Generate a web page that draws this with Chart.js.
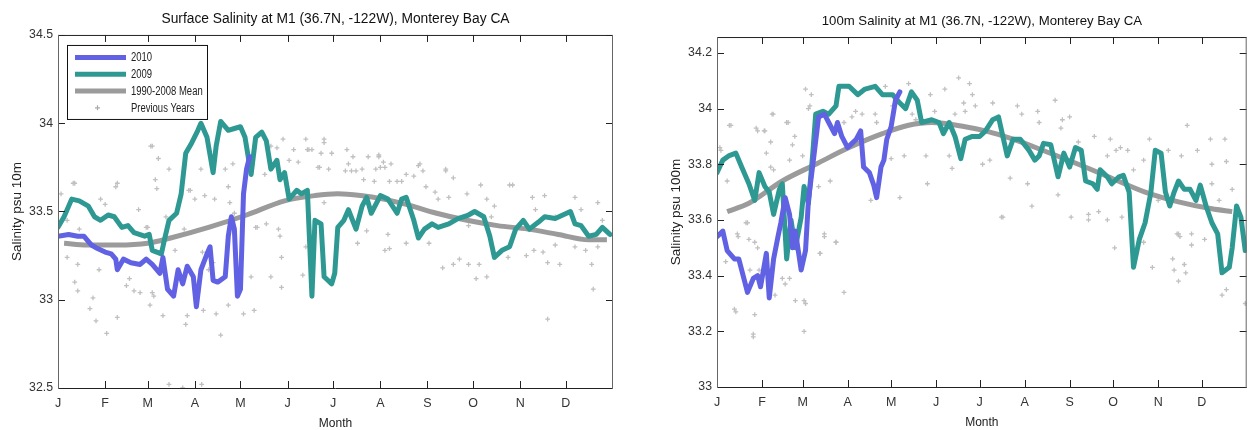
<!DOCTYPE html>
<html>
<head>
<meta charset="utf-8">
<title>M1 Salinity, Monterey Bay</title>
<script src="https://cdn.jsdelivr.net/npm/chart.js@4.4.1/dist/chart.umd.min.js"></script>
<style>
  html, body { margin: 0; padding: 0; background: #fff; }
  body { width: 1252px; height: 430px; position: relative; overflow: hidden; }
  .panel { position: absolute; top: 0; height: 430px; }
  #leftPanel { left: 0; width: 626px; }
  #rightPanel { left: 640px; width: 612px; }
</style>
</head>
<body>
<div class="panel" id="leftPanel"><canvas id="surfaceChart"></canvas></div>
<div class="panel" id="rightPanel"><canvas id="deepChart"></canvas></div>
<script>
'use strict';

//month ticks (day of year)
var monthStarts = [1, 32, 60, 91, 121, 152, 182, 213, 244, 274, 305, 335];
var monthLabels = ['J', 'F', 'M', 'A', 'M', 'J', 'J', 'A', 'S', 'O', 'N', 'D'];

//surface (10m) salinity - 2010
var surfDays2010 = [1, 8, 14, 18, 23, 27, 32, 36, 39, 40, 44, 49, 55, 59, 63, 68, 70, 73, 77, 80, 83, 86, 90, 92, 95, 99, 101, 103, 106, 111, 113, 115, 117, 119, 121, 123, 125, 127];
var surfSal2010 = [33.36, 33.37, 33.36, 33.36, 33.31, 33.29, 33.27, 33.26, 33.23, 33.17, 33.23, 33.21, 33.20, 33.23, 33.20, 33.15, 33.24, 33.06, 33.02, 33.17, 33.09, 33.19, 33.13, 32.96, 33.17, 33.26, 33.30, 33.11, 33.10, 33.13, 33.36, 33.47, 33.40, 33.02, 33.06, 33.60, 33.74, 33.81];

//surface salinity - 2009
var surfDays2009 = [1, 5, 10, 15, 21, 25, 29, 34, 38, 43, 47, 51, 58, 61, 63, 69, 71, 74, 79, 82, 85, 89, 93, 95, 99, 103, 105, 108, 113, 117, 121, 124, 128, 131, 135, 138, 141, 145, 147, 150, 153, 158, 161, 165, 168, 170, 174, 176, 181, 183, 185, 189, 192, 197, 201, 204, 207, 213, 218, 224, 227, 230, 235, 238, 242, 247, 251, 258, 264, 271, 275, 281, 285, 288, 293, 298, 302, 307, 311, 317, 321, 328, 333, 338, 341, 345, 350, 355, 359, 364];
var surfSal2009 = [33.41, 33.47, 33.57, 33.56, 33.53, 33.47, 33.45, 33.48, 33.47, 33.41, 33.42, 33.38, 33.36, 33.37, 33.28, 33.26, 33.34, 33.45, 33.49, 33.60, 33.83, 33.89, 33.96, 34.00, 33.92, 33.72, 33.87, 34.01, 33.96, 33.97, 33.98, 33.92, 33.71, 33.92, 33.95, 33.90, 33.74, 33.79, 33.68, 33.72, 33.57, 33.62, 33.60, 33.62, 33.02, 33.45, 33.43, 33.13, 33.09, 33.15, 33.41, 33.45, 33.51, 33.40, 33.53, 33.58, 33.49, 33.59, 33.57, 33.49, 33.57, 33.58, 33.45, 33.35, 33.40, 33.43, 33.41, 33.43, 33.46, 33.48, 33.50, 33.47, 33.36, 33.24, 33.28, 33.30, 33.40, 33.45, 33.40, 33.44, 33.47, 33.46, 33.48, 33.50, 33.43, 33.42, 33.36, 33.37, 33.41, 33.37];

//surface salinity - 1990-2008 mean
var surfMeanDays = [5, 20, 40, 60, 75, 100, 125, 150, 170, 185, 200, 215, 230, 250, 270, 290, 310, 330, 350, 362];
var surfMeanSal = [33.32, 33.31, 33.31, 33.32, 33.35, 33.41, 33.48, 33.56, 33.59, 33.60, 33.59, 33.57, 33.54, 33.49, 33.45, 33.42, 33.40, 33.37, 33.34, 33.34];

//surface salinity - previous years samples
var surfPrevDays = [7, 14, 12, 14, 22, 24, 26, 33, 28, 40, 46, 48, 51, 55, 61.5, 63, 64, 70, 74, 83, 85, 86, 95.5, 96.6, 105, 108, 113, 123, 130, 128, 141, 148, 148, 146, 162, 164, 132, 138, 60, 7, 15,
  11, 3, 29, 32, 39, 59, 54, 63, 66, 67, 72, 78, 84, 88, 91, 95, 97.5, 96, 100, 103, 104, 113, 114, 116, 111, 117, 131, 137, 141, 145, 147, 153, 156, 159, 165, 168, 172, 174, 176, 179, 176, 181, 149, 65,
  191, 192, 190, 195, 194, 197, 201, 202, 205, 209, 210, 212, 213, 215, 216, 219, 220, 224, 227, 235, 239, 241, 243, 249, 251, 256, 258, 261, 270, 279, 283, 288, 298, 313, 321, 341, 356,
  216, 219, 218, 198, 204, 230, 245, 254, 261, 265, 271, 278, 283, 297, 309, 314, 320, 323, 328, 331, 341, 348, 352, 353, 323, 276, 315, 328, 345, 359, 356, 271, 286,
  176, 173, 212, 230, 238, 256, 300, 164, 166, 62, 40, 12, 87, 74];
var surfPrevSal = [33.24, 33.20, 33.10, 33.05, 32.95, 33.01, 32.88, 32.81, 33.17, 32.90, 33.08, 33.12, 33.05, 33.04, 32.97, 33.04, 33.02, 32.91, 32.52, 32.50, 32.86, 32.91, 32.52, 32.94, 32.92, 32.80, 32.97, 32.92, 32.94, 33.13, 33.13, 33.07, 33.24, 33.40, 33.14, 33.30, 33.41, 33.43, 33.41, 33.45, 33.40,
  33.66, 33.60, 33.57, 33.54, 33.64, 33.41, 33.51, 33.87, 33.63, 33.80, 33.47, 33.28, 33.40, 33.62, 33.57, 33.74, 33.59, 33.27, 33.17, 33.21, 33.57, 33.64, 33.55, 33.77, 33.74, 33.49, 33.41, 33.71, 33.87, 33.86, 33.36, 33.79, 33.85, 33.78, 33.85, 33.85, 33.75, 33.83, 33.89, 33.74, 33.55, 33.83, 33.91, 33.68,
  33.85, 33.77, 33.73, 33.81, 33.73, 33.73, 33.74, 33.68, 33.81, 33.67, 33.74, 33.81, 33.75, 33.78, 33.75, 33.67, 33.77, 33.67, 33.67, 33.70, 33.77, 33.73, 33.64, 33.61, 33.57, 33.73, 33.58, 33.69, 33.60, 33.65, 33.57, 33.53, 33.65, 33.58, 33.59, 33.58, 33.55,
  33.28, 33.29, 33.37, 33.32, 33.39, 33.32, 33.32, 33.18, 33.20, 33.23, 33.20, 33.20, 33.13, 33.24, 33.25, 33.28, 33.27, 33.21, 33.31, 33.20, 33.30, 33.28, 33.20, 33.06, 32.89, 33.12, 33.51, 33.47, 33.51, 33.45, 33.30, 33.42, 33.47,
  33.91, 33.75, 33.82, 33.71, 33.76, 33.74, 33.65, 33.91, 33.85, 33.87, 33.66, 33.66, 33.62, 33.74];

//100m salinity - 2010
var deepDays2010 = [1, 5, 8, 13, 16, 20, 22, 26, 29, 31, 35, 37, 40, 43, 45, 48, 51, 53, 55, 59, 62, 64, 68, 71, 75, 78, 82, 84, 87, 91, 94, 97, 100, 102, 106, 109, 111, 114, 116, 118, 121, 124, 127];
var deepSal2010 = [33.54, 33.56, 33.49, 33.46, 33.46, 33.38, 33.34, 33.39, 33.40, 33.36, 33.48, 33.32, 33.46, 33.54, 33.59, 33.68, 33.62, 33.50, 33.56, 33.42, 33.49, 33.67, 33.84, 33.97, 33.98, 33.95, 33.91, 33.95, 33.90, 33.86, 33.875, 33.89, 33.92, 33.79, 33.77, 33.725, 33.68, 33.79, 33.815, 33.89, 33.935, 34.03, 34.06];

//100m salinity - 2009
var deepDays2009 = [1, 5, 9, 14, 18, 23, 27, 30, 34, 37, 40, 44, 46, 49, 52, 55, 59, 61, 64, 67, 69, 74, 78, 83, 85, 92, 98, 103, 110, 115, 122, 127, 131, 135, 139, 142, 149, 154, 157, 161, 165, 169, 172, 177, 182, 186, 191, 195, 198, 201, 205, 210, 216, 220, 223, 226, 231, 236, 240, 244, 248, 252, 255, 260, 263, 265, 270, 273, 278, 281, 285, 288, 292, 296, 300, 303, 307, 310, 313, 316, 319, 323, 327, 331, 334, 338, 342, 346, 349, 354, 356, 359, 362, 365];
var deepSal2009 = [33.77, 33.815, 33.83, 33.84, 33.79, 33.73, 33.67, 33.77, 33.72, 33.70, 33.62, 33.71, 33.73, 33.46, 33.60, 33.50, 33.61, 33.72, 33.66, 33.84, 33.98, 33.99, 33.98, 34.01, 34.08, 34.08, 34.05, 34.07, 34.08, 34.05, 34.05, 34.02, 34.00, 34.06, 34.03, 33.95, 33.96, 33.95, 33.91, 33.95, 33.90, 33.82, 33.89, 33.90, 33.90, 33.92, 33.96, 33.97, 33.90, 33.83, 33.89, 33.89, 33.85, 33.815, 33.83, 33.875, 33.87, 33.755, 33.84, 33.79, 33.86, 33.85, 33.74, 33.73, 33.71, 33.78, 33.755, 33.73, 33.755, 33.76, 33.70, 33.43, 33.53, 33.59, 33.70, 33.85, 33.84, 33.70, 33.65, 33.70, 33.74, 33.71, 33.71, 33.67, 33.725, 33.65, 33.59, 33.55, 33.41, 33.43, 33.50, 33.65, 33.61, 33.49];

//100m salinity - 1990-2008 mean
var deepMeanDays = [8, 23, 46, 69, 92, 115, 133, 149, 172, 186, 205, 228, 250, 273, 296, 319, 342, 356];
var deepMeanSal = [33.63, 33.66, 33.74, 33.80, 33.86, 33.91, 33.94, 33.95, 33.935, 33.92, 33.89, 33.845, 33.80, 33.75, 33.70, 33.665, 33.64, 33.63];

//100m salinity - previous years samples
var deepPrevDays = [3.7, 10.6, 8, 7, 13, 14, 15, 22, 23, 27, 26, 27, 29, 33.5, 39, 35, 38, 38, 40, 30, 46, 50, 51, 53, 55, 61, 61, 62, 66, 64, 69, 71, 72, 75, 79, 83, 88.5, 88.5, 94, 91, 96.5, 101, 107, 110, 111, 117, 121, 122, 127, 130, 133, 135.5, 138, 145, 146, 148, 151, 158, 161, 163, 165, 167.5, 171, 172, 175, 177, 179, 184,
  191, 189, 197, 203, 208, 211, 218, 215, 222, 223, 234, 239, 238, 244, 245, 236, 250, 257, 257, 261, 264, 270, 270, 272, 275, 276, 279, 284, 288, 295, 295, 299, 301, 305, 312, 315, 316, 319, 319, 321, 323, 325, 328, 332, 341, 342, 342, 347, 351, 352, 356, 349, 352, 365,
  318, 320, 328, 324, 337, 198, 280,
  15.6, 21, 23.7, 29, 26, 41, 48, 51, 62, 72, 75, 83,
  9.5, 3, 28, 34, 39.7, 49, 54.6, 65, 60];
var deepPrevSal = [33.85, 33.94, 33.74, 33.45, 33.28, 33.27, 33.55, 33.59, 33.53, 33.52, 33.18, 33.26, 33.92, 33.92, 33.98, 33.84, 33.88, 33.79, 33.78, 33.42, 33.39, 33.95, 33.815, 33.87, 33.31, 33.31, 33.20, 34.07, 34.05, 34.00, 33.95, 33.72, 33.48, 33.55, 33.74, 33.52, 33.34, 33.95, 33.97, 34.08, 33.99, 33.98, 33.67, 33.98, 33.95, 34.08, 33.82, 34.01, 33.68, 33.83, 34.09, 33.98, 33.96, 33.83, 33.73, 34.05, 33.99, 34.07, 33.83, 33.785, 33.98, 34.11, 34.02, 33.99, 34.09, 34.05, 34.01, 33.80,
  34.02, 33.815, 33.61, 33.75, 34.01, 33.98, 33.65, 33.73, 33.99, 33.95, 34.03, 33.96, 33.93, 33.97, 33.61, 33.69, 33.88, 33.62, 33.60, 33.90, 33.63, 33.60, 33.83, 33.89, 33.50, 33.85, 33.86, 33.85, 33.78, 33.815, 33.52, 33.89, 33.43, 33.67, 33.85, 33.46, 33.42, 33.38, 33.55, 33.83, 33.44, 33.94, 33.55, 33.85, 33.89, 33.80, 33.73, 33.67, 33.89, 33.81, 33.71, 33.33, 33.35, 33.30,
  33.55, 33.54, 33.51, 33.41, 33.53, 33.61, 33.61,
  33.54, 33.59, 33.42, 33.50, 33.19, 33.33, 33.37, 33.39, 33.30, 33.48, 33.54, 33.52,
  33.94, 33.86, 33.93, 33.92, 33.98, 33.95, 33.90, 34.01, 33.83];

//colors and fonts
var blue2010 = '#6161e3';
var teal2009 = '#2e9993';
var meanGray = '#9b9b9b';
var dotGray = '#c0c0c0';
var mainFont = '"Liberation Sans", Arial, sans-serif';

Chart.defaults.font.family = mainFont;

//turn two arrays into chart points
function toPoints(days, values) {
  return days.map(function (d, i) {
    return { x: d, y: values[i] };
  });
}

//draw the matlab style box and inward tick marks on all four sides
var boxTicks = {
  id: 'boxTicks',
  afterDraw: function (chart) {
    var ctx = chart.ctx;
    var a = chart.chartArea;
    var xs = chart.scales.x;
    var ys = chart.scales.y;
    var len = 7;
    ctx.save();
    ctx.lineWidth = 1;
    ctx.strokeStyle = '#222';
    ctx.beginPath();
    xs.ticks.forEach(function (t) {
      var px = Math.round(xs.getPixelForValue(t.value)) + 0.5;
      ctx.moveTo(px, a.bottom);
      ctx.lineTo(px, a.bottom - len);
      ctx.moveTo(px, a.top);
      ctx.lineTo(px, a.top + len);
    });
    ys.ticks.forEach(function (t) {
      var py = Math.round(ys.getPixelForValue(t.value)) + 0.5;
      ctx.moveTo(a.left, py);
      ctx.lineTo(a.left + len, py);
      ctx.moveTo(a.right, py);
      ctx.lineTo(a.right - len, py);
    });
    ctx.stroke();
    //frame
    ctx.beginPath();
    ctx.moveTo(a.left, a.top + 0.5);
    ctx.lineTo(a.right, a.top + 0.5);
    ctx.moveTo(a.left, a.bottom + 0.5);
    ctx.lineTo(a.right, a.bottom + 0.5);
    ctx.stroke();
    ctx.strokeStyle = '#666';
    ctx.beginPath();
    ctx.moveTo(a.left + 0.5, a.top);
    ctx.lineTo(a.left + 0.5, a.bottom + 1);
    ctx.moveTo(a.right - 0.5, a.top);
    ctx.lineTo(a.right - 0.5, a.bottom + 1);
    ctx.stroke();
    ctx.restore();
  }
};

//legend box inside the surface plot (narrow text like the original)
var boxLegend = {
  id: 'boxLegend',
  afterDraw: function (chart) {
    var ctx = chart.ctx;
    var a = chart.chartArea;
    var bx = a.left + 9;
    var by = a.top + 10;
    var rows = [
      { text: '2010', color: blue2010, line: true },
      { text: '2009', color: teal2009, line: true },
      { text: '1990-2008 Mean', color: meanGray, line: true },
      { text: 'Previous Years', color: dotGray, line: false }
    ];
    ctx.save();
    ctx.fillStyle = '#fff';
    ctx.fillRect(bx, by, 140, 74);
    ctx.strokeStyle = '#111';
    ctx.lineWidth = 1;
    ctx.strokeRect(bx + 0.5, by + 0.5, 140, 74);
    ctx.font = '12px ' + mainFont;
    ctx.textBaseline = 'middle';
    rows.forEach(function (r, i) {
      var y = by + 12.5 + i * 16.8;
      if (r.line) {
        ctx.strokeStyle = r.color;
        ctx.lineWidth = 5;
        ctx.beginPath();
        ctx.moveTo(bx + 8, y);
        ctx.lineTo(bx + 59, y);
        ctx.stroke();
      } else {
        ctx.strokeStyle = '#aaa';
        ctx.lineWidth = 1.2;
        ctx.beginPath();
        ctx.moveTo(bx + 30.5, y - 2.5);
        ctx.lineTo(bx + 30.5, y + 2.5);
        ctx.moveTo(bx + 28, y);
        ctx.lineTo(bx + 33, y);
        ctx.stroke();
      }
      ctx.save();
      ctx.translate(bx + 64, y + 0.5);
      ctx.scale(0.79, 1);
      ctx.fillStyle = '#222';
      ctx.fillText(r.text, 0, 0);
      ctx.restore();
    });
    ctx.restore();
  }
};

function buildChart(canvasId, cfg) {
  var ctx = document.getElementById(canvasId).getContext('2d');
  var chartPlugins = [boxTicks];
  if (cfg.legend) {
    chartPlugins.push(boxLegend);
  }
  return new Chart(ctx, {
    type: 'scatter',
    data: {
      datasets: [
        {
          label: '2010',
          data: toPoints(cfg.days2010, cfg.sal2010),
          showLine: true,
          borderColor: blue2010,
          borderWidth: 5,
          borderJoinStyle: 'round',
          borderCapStyle: 'round',
          pointRadius: 0
        },
        {
          label: '2009',
          data: toPoints(cfg.days2009, cfg.sal2009),
          showLine: true,
          borderColor: teal2009,
          borderWidth: 5,
          borderJoinStyle: 'round',
          borderCapStyle: 'round',
          pointRadius: 0
        },
        {
          label: '1990-2008 Mean',
          data: toPoints(cfg.meanDays, cfg.meanSal),
          showLine: true,
          borderColor: meanGray,
          borderWidth: 5,
          borderCapStyle: 'butt',
          cubicInterpolationMode: 'monotone',
          pointRadius: 0
        },
        {
          label: 'Previous Years',
          data: toPoints(cfg.prevDays, cfg.prevSal),
          showLine: false,
          pointStyle: 'cross',
          pointRadius: 2.4,
          borderColor: dotGray,
          borderWidth: 1.3
        }
      ]
    },
    options: {
      responsive: true,
      maintainAspectRatio: false,
      animation: false,
      events: [],
      layout: { padding: { left: 0, right: cfg.padRight, top: 0, bottom: 0 } },
      plugins: {
        legend: { display: false },
        tooltip: { enabled: false },
        title: {
          display: true,
          text: cfg.title,
          fullSize: false,
          color: '#111',
          font: { size: cfg.titleSize, weight: 'normal' },
          padding: { top: cfg.titleTop, bottom: cfg.titleBottom }
        }
      },
      scales: {
        x: {
          type: 'linear',
          min: 1,
          max: 366,
          afterBuildTicks: function (scale) {
            scale.ticks = monthStarts.map(function (d) { return { value: d }; });
          },
          afterFit: function (scale) { scale.height = cfg.xAxisHeight; },
          grid: { display: false, drawTicks: false },
          border: { display: false },
          ticks: {
            autoSkip: false,
            maxRotation: 0,
            padding: 8,
            color: '#333',
            font: { size: 12.5 },
            callback: function (value, index) { return monthLabels[index]; }
          },
          title: {
            display: true,
            text: 'Month',
            color: '#222',
            font: { size: 12, lineHeight: 1 },
            padding: { top: 0, bottom: cfg.monthPad }
          }
        },
        y: {
          type: 'linear',
          min: cfg.yMin,
          max: cfg.yMax,
          afterFit: function (scale) { scale.width = cfg.yAxisWidth; },
          grid: { display: false, drawTicks: false },
          border: { display: false },
          ticks: {
            stepSize: cfg.yStep,
            includeBounds: false,
            padding: 5,
            color: '#333',
            font: { size: 12.3 },
            callback: function (value) { return String(Math.round(value * 10) / 10); }
          },
          title: {
            display: true,
            text: cfg.yTitle,
            color: '#222',
            font: { size: 13.5, lineHeight: 1.2 },
            padding: { top: cfg.yTitlePad, bottom: 0 }
          }
        }
      }
    },
    plugins: chartPlugins
  });
}

//surface chart
buildChart('surfaceChart', {
  title: 'Surface Salinity at M1 (36.7N, -122W), Monterey Bay CA',
  yTitle: 'Salinity psu 10m',
  days2010: surfDays2010, sal2010: surfSal2010,
  days2009: surfDays2009, sal2009: surfSal2009,
  meanDays: surfMeanDays, meanSal: surfMeanSal,
  prevDays: surfPrevDays, prevSal: surfPrevSal,
  yMin: 32.5, yMax: 34.5, yStep: 0.5,
  padRight: 13, yAxisWidth: 58, xAxisHeight: 42,
  titleSize: 13.8, titleTop: 10.7, titleBottom: 7.7,
  yTitlePad: 9, monthPad: 0,
  legend: true
});

//100m chart
buildChart('deepChart', {
  title: '100m Salinity at M1 (36.7N, -122W), Monterey Bay CA',
  yTitle: 'Salinity psu 100m',
  days2010: deepDays2010, sal2010: deepSal2010,
  days2009: deepDays2009, sal2009: deepSal2009,
  meanDays: deepMeanDays, meanSal: deepMeanSal,
  prevDays: deepPrevDays, prevSal: deepPrevSal,
  yMin: 33, yMax: 34.257, yStep: 0.2,
  padRight: 4, yAxisWidth: 77, xAxisHeight: 43,
  titleSize: 13.2, titleTop: 13.9, titleBottom: 7.3,
  yTitlePad: 28.5, monthPad: 1.5,
  legend: false
});
</script>
</body>
</html>
